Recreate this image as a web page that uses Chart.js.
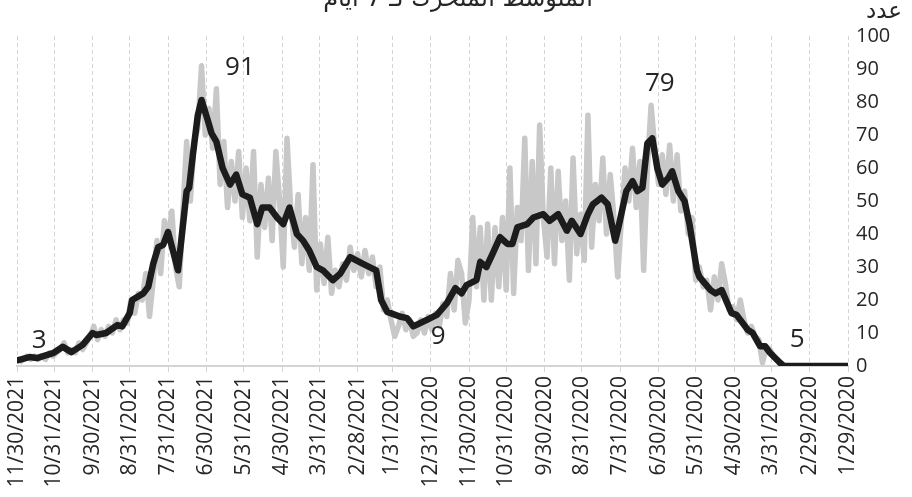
<!DOCTYPE html>
<html>
<head>
<meta charset="utf-8">
<script src="https://cdn.jsdelivr.net/npm/chart.js@4.4.1/dist/chart.umd.min.js"></script>
<style>
  html, body { margin: 0; padding: 0; background: #fff; }
  canvas { display: block; }
</style>
</head>
<body>
<canvas id="chart" width="912" height="497"></canvas>
<script>
// ---------- DATA ----------
const titleText = "المتوسط المتحرك لـ 7 أيام";
const yTitle = "عدد";

// x axis runs right-to-left, newest date on the left
const tickLabels = [
  "11/30/2021", "10/31/2021", "9/30/2021", "8/31/2021", "7/31/2021", "6/30/2021",
  "5/31/2021", "4/30/2021", "3/31/2021", "2/28/2021", "1/31/2021", "12/31/2020",
  "11/30/2020", "10/31/2020", "9/30/2020", "8/31/2020", "7/31/2020", "6/30/2020",
  "5/31/2020", "4/30/2020", "3/31/2020", "2/29/2020", "1/29/2020"
];
const yTicks = [0, 10, 20, 30, 40, 50, 60, 70, 80, 90, 100];

// daily counts (grey), one value every 3 days from 1/29/2020
const dailyStep = 3;
const dailyCases = [
  0, 0, 0, 0, 0, 0, 0, 0, 0, 0,
  0, 0, 0, 0, 0, 0, 0, 0, 1, 2,
  3, 5, 6, 1, 8, 9, 12, 10, 14, 20,
  14, 18, 17, 25, 31, 20, 27, 17, 26, 24,
  30, 26, 45, 40, 53, 47, 64, 50, 67, 52,
  64, 55, 66, 79, 60, 29, 62, 48, 66, 50,
  60, 44, 27, 45, 58, 40, 63, 44, 55, 36,
  76, 32, 46, 34, 63, 26, 50, 38, 59, 31,
  60, 33, 45, 73, 31, 62, 29, 69, 38, 48,
  22, 60, 23, 45, 24, 42, 20, 43, 20, 42,
  24, 45, 20, 13, 28, 32, 17, 28, 15, 19,
  12, 16, 11, 15, 10, 14, 10, 9, 14, 11,
  16, 12, 9, 14, 20, 17, 30, 24, 33, 28,
  35, 27, 34, 29, 36, 26, 31, 24, 29, 22,
  39, 25, 37, 23, 61, 29, 45, 31, 52, 36,
  48, 69, 30, 50, 65, 38, 57, 42, 55, 33,
  65, 44, 60, 45, 65, 50, 62, 48, 68, 55,
  84, 66, 78, 70, 91, 72, 68, 50, 68, 47,
  24, 30, 47, 38, 44, 28, 38, 26, 15, 28,
  20, 22, 16, 20, 13, 14, 11, 14, 10, 12,
  9, 11, 8, 12, 9, 7, 5, 7, 4, 5,
  4, 7, 5, 4, 3, 4, 2, 3, 2, 3,
  2, 3, 2, 1
];

// 7-day moving average (black): day since 1/29/2020 and value
const avgDays = [
  0, 52, 55, 63, 67, 71, 77, 81, 85, 90, 94, 102, 107, 111, 120, 122, 128, 132, 137, 142,
  145, 150, 154, 158, 162, 166, 170, 174, 179, 186, 188, 194, 199, 206, 210, 216, 223, 227, 234, 241,
  246, 254, 259, 267, 271, 275, 281, 287, 292, 297, 300, 308, 312, 317, 324, 332, 340, 351, 356, 362,
  372, 377, 381, 392, 402, 410, 416, 424, 429, 435, 440, 445, 451, 456, 461, 467, 473, 477, 483, 489,
  494, 499, 505, 510, 514, 517, 522, 525, 529, 532, 534, 541, 549, 553, 557, 561, 565, 569, 578, 580,
  586, 590, 599, 607, 610, 618, 627, 634, 642, 655, 661, 670
];
const avgCases = [
  0, 0, 1, 4, 6, 6, 10, 11, 13, 15.5, 16, 23, 22, 23, 27, 29, 43, 50, 53, 59,
  57, 55, 60, 69, 67.5, 54, 53, 56, 53, 41, 38, 49, 51, 49, 46, 40, 44, 41, 46, 44,
  46, 45, 43, 42, 37, 37, 39, 34, 30, 31.5, 26, 24.5, 22, 23.6, 19, 15.5, 14, 12, 14.5, 15,
  16.4, 20, 29, 31, 33, 28, 26, 29, 30, 35, 38, 40, 48, 43, 45, 48, 48, 43, 51, 52,
  58, 55, 60, 68, 70.6, 74.5, 80.6, 76, 64, 54, 53, 29, 40.6, 36.7, 36, 31, 24, 22, 20, 16,
  12, 12.4, 10, 9.4, 10, 6.4, 4.2, 5.8, 3.9, 2.4, 2.7, 1.8
];

// value labels written on the chart
const noteText = ["3", "91", "9", "79", "5"];
const noteDay = [653, 491, 331, 152, 41];
const noteValue = [7.6, 90.3, 8.8, 85.5, 7.9];

// ---------- HELPERS ----------
function dayIndex(label) {
  const [m, d, y] = label.split("/").map(Number);
  return Math.round((Date.UTC(y, m - 1, d) - Date.UTC(2020, 0, 29)) / 86400000);
}
const tickDays = tickLabels.map(dayIndex);
const labelByDay = {};
tickDays.forEach((d, i) => { labelByDay[d] = tickLabels[i]; });

const dailyPoints = dailyCases.map((v, i) => ({ x: i * dailyStep, y: v }));
const avgPoints = avgDays.map((d, i) => ({ x: d, y: avgCases[i] }));

const textColor = "#262626";
const fontFamily = "'Open Sans', 'DejaVu Sans', sans-serif";

// ---------- EXTRA TEXT ----------
const textPlugin = {
  id: "chartTexts",
  afterDraw(chart) {
    const { ctx } = chart;
    const x = chart.scales.x, y = chart.scales.y;
    ctx.save();
    ctx.fillStyle = textColor;
    ctx.font = "26px " + fontFamily;
    ctx.textAlign = "center";
    ctx.textBaseline = "middle";
    noteText.forEach((t, i) => {
      ctx.fillText(t, x.getPixelForValue(noteDay[i]), y.getPixelForValue(noteValue[i]));
    });
    ctx.textBaseline = "alphabetic";
    ctx.font = "24px 'DejaVu Sans', sans-serif";
    ctx.fillText(titleText, chart.width / 2 + 2, 6);
    ctx.textAlign = "left";
    ctx.font = "23px 'DejaVu Sans', sans-serif";
    ctx.fillText(yTitle, y.left + 18, 18);
    ctx.restore();
  }
};

// ---------- CHART ----------
new Chart(document.getElementById("chart"), {
  type: "line",
  data: {
    datasets: [
      {
        label: "avg",
        data: avgPoints,
        borderColor: "#1c1c1c",
        borderWidth: 6.5,
        borderJoinStyle: "round",
        borderCapStyle: "round",
        pointRadius: 0,
        tension: 0
      },
      {
        label: "daily",
        data: dailyPoints,
        borderColor: "#c8c8c8",
        borderWidth: 5.5,
        borderJoinStyle: "round",
        pointRadius: 0,
        tension: 0
      }
    ]
  },
  options: {
    responsive: false,
    animation: false,
    devicePixelRatio: 1,
    layout: { padding: { left: 17, top: 36, right: 0, bottom: 0 } },
    plugins: {
      legend: { display: false },
      tooltip: { enabled: false }
    },
    scales: {
      x: {
        type: "linear",
        reverse: true,
        min: 0,
        max: dayIndex(tickLabels[0]),
        afterBuildTicks: s => { s.ticks = tickDays.map(v => ({ value: v })); },
        afterFit: s => { s.height = 131; },
        grid: {
          color: "#d4d4d4",
          lineWidth: 1,
          tickLength: 6,
          tickColor: "#d4d4d4"
        },
        border: { display: true, color: "#d4d4d4", width: 2, dash: [4, 3] },
        ticks: {
          autoSkip: false,
          maxRotation: 90,
          minRotation: 90,
          padding: 4,
          color: textColor,
          font: { family: fontFamily, size: 21 },
          callback: v => labelByDay[v] || ""
        }
      },
      y: {
        position: "right",
        min: 0,
        max: 100,
        afterBuildTicks: s => { s.ticks = yTicks.map(v => ({ value: v })); },
        afterFit: s => { s.width = 64; },
        grid: { display: false },
        border: { display: false },
        ticks: {
          padding: 0,
          color: textColor,
          font: { family: fontFamily, size: 20 }
        }
      }
    }
  },
  plugins: [textPlugin]
});
</script>
</body>
</html>
